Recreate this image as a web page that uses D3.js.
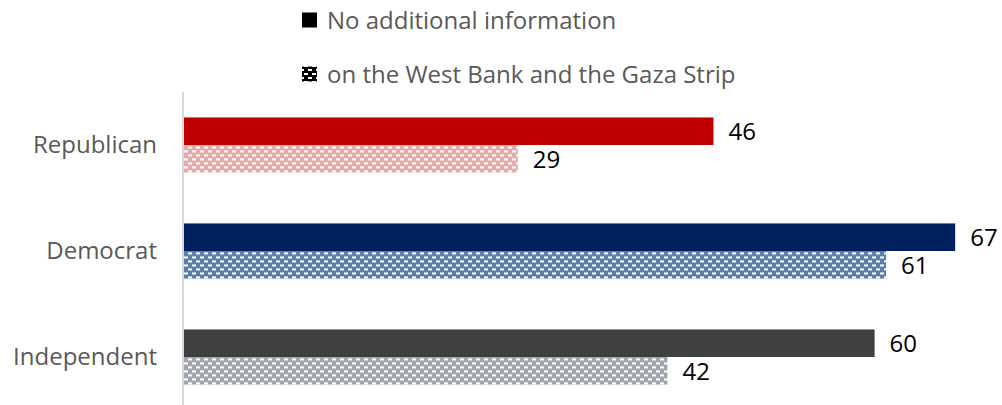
<!DOCTYPE html>
<meta charset="utf-8">
<html>
<head>
    <script src="https://d3js.org/d3.v7.min.js"></script>
    <style>
        body { margin: 0; background: #fff; }
        text { font-family: "Open Sans", sans-serif; }
    </style>
</head>
<body>
    <script>
        // data
        const categories = ["Republican", "Democrat", "Independent"];
        const seriesNames = ["No additional information", "on the West Bank and the Gaza Strip"];
        const noInfo = [46, 67, 60];
        const westBank = [29, 61, 42];
        const solidColors = ["#c00000", "#002060", "#404040"];
        const patternColors = ["#e4abab", "#5a7fa9", "#a1a5ad"];

        const width = 1002;
        const height = 405;

        const svg = d3.select('body')
            .append('svg')
            .attr('width', width)
            .attr('height', height);

        const defs = svg.append('defs');

        // dashed "brick" fill like the excel pattern
        function makePattern(id, bg) {
            const p = defs.append('pattern')
                .attr('id', id)
                .attr('patternUnits', 'userSpaceOnUse')
                .attr('width', 8)
                .attr('height', 8);
            p.append('rect').attr('width', 8).attr('height', 8).attr('fill', bg);
            p.append('rect').attr('x', 0).attr('y', 1).attr('width', 4).attr('height', 2).attr('fill', '#fff');
            p.append('rect').attr('x', 4).attr('y', 5).attr('width', 4).attr('height', 2).attr('fill', '#fff');
        }
        patternColors.forEach((c, i) => makePattern('pat' + i, c));
        makePattern('patLegend', '#000');

        const x = d3.scaleLinear()
            .domain([0, 70])
            .range([184, 184 + 70 * 11.51]);

        const y = d3.scaleBand()
            .domain(categories)
            .range([92, 410])
            .paddingInner(0.48)
            .paddingOuter(0.24);

        const ySub = d3.scaleBand()
            .domain([0, 1])
            .range([0, y.bandwidth()]);

        const rows = categories.map((c, i) => ({
            cat: c, i: i,
            vals: [noInfo[i], westBank[i]]
        }));

        const groups = svg.selectAll('g.cat')
            .data(rows)
            .enter()
            .append('g')
            .attr('class', 'cat')
            .attr('transform', d => `translate(0,${y(d.cat)})`);

        groups.selectAll('rect')
            .data(d => d.vals.map((v, k) => ({ v: v, k: k, i: d.i })))
            .enter()
            .append('rect')
            .attr('x', x(0))
            .attr('y', d => ySub(d.k))
            .attr('width', d => x(d.v) - x(0))
            .attr('height', ySub.bandwidth())
            .attr('fill', d => d.k === 0 ? solidColors[d.i] : `url(#pat${d.i})`);

        groups.selectAll('text.val')
            .data(d => d.vals.map((v, k) => ({ v: v, k: k })))
            .enter()
            .append('text')
            .attr('class', 'val')
            .attr('x', d => x(d.v) + 15)
            .attr('y', d => ySub(d.k) + ySub.bandwidth() / 2)
            .attr('dy', '0.38em')
            .style('font-size', '24px')
            .style('fill', '#000')
            .text(d => d.v);

        // category axis
        const axis = svg.append('g')
            .attr('transform', 'translate(183,0)')
            .call(d3.axisLeft(y).tickSize(0).tickPadding(26));
        axis.select('.domain')
            .attr('stroke', '#d9d9d9')
            .attr('stroke-width', 2)
            .attr('d', 'M0,92V405');
        axis.selectAll('text')
            .style('font-family', '"Open Sans", sans-serif')
            .style('font-size', '24px')
            .style('fill', '#595959');

        // legend
        const legend = svg.append('g');
        const legendY = [20, 74];
        seriesNames.forEach((name, k) => {
            legend.append('rect')
                .attr('x', 302)
                .attr('y', legendY[k] - 7.5)
                .attr('width', 15)
                .attr('height', 15)
                .attr('fill', k === 0 ? '#000' : 'url(#patLegend)');
            legend.append('text')
                .attr('x', 327)
                .attr('y', legendY[k])
                .attr('dy', '0.36em')
                .style('font-size', '24px')
                .style('fill', '#595959')
                .text(name);
        });
    </script>
</body>
</html>
